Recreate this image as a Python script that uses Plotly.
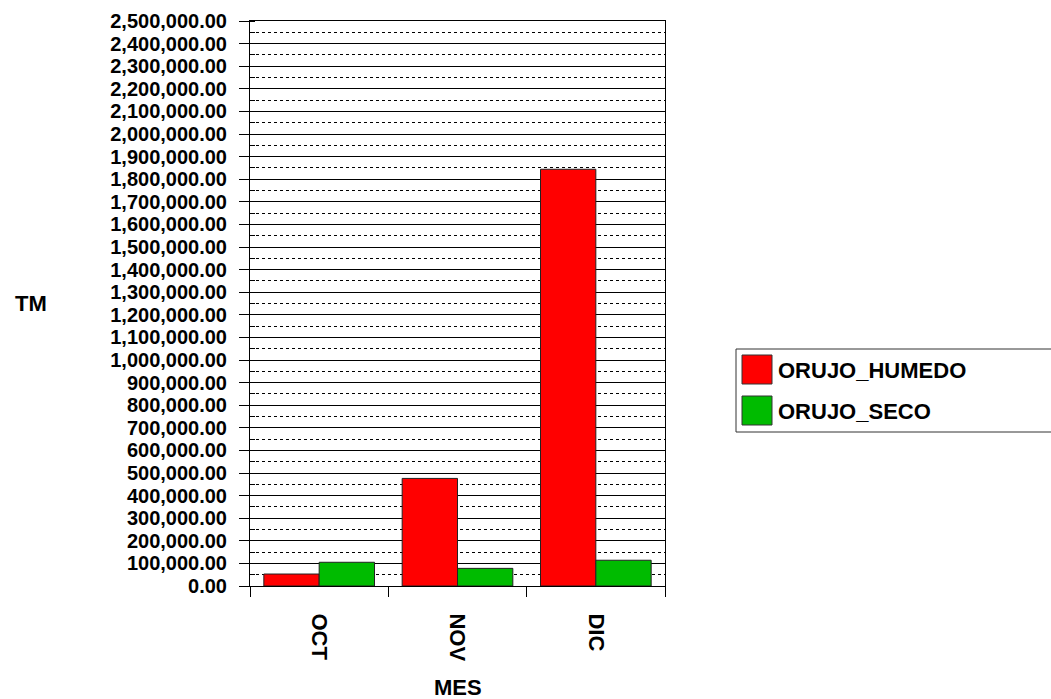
import plotly.graph_objects as go

months = ["OCT", "NOV", "DIC"]
orujo_humedo = [53000, 476000, 1844000]
orujo_seco = [105000, 78000, 114000]
series_names = ["ORUJO_HUMEDO", "ORUJO_SECO"]
series_colors = ["#FF0000", "#00BB00"]
x_title = "MES"
y_title = "TM"

FONT = "Liberation Sans, Arial, sans-serif"
FS = 22
FSY = 20

fig = go.Figure()
for name, vals, col in zip(series_names, [orujo_humedo, orujo_seco], series_colors):
    fig.add_trace(go.Bar(
        x=months, y=vals, name=name,
        marker=dict(color=col, line=dict(color="#222222", width=1)),
        showlegend=False,
    ))

fig.update_layout(
    width=1051, height=699,
    margin=dict(l=250, r=386, t=21, b=113),
    paper_bgcolor="white", plot_bgcolor="white",
    barmode="group", bargap=0.2, bargroupgap=0,
    font=dict(family=FONT, size=FS, color="black", weight="bold"),
)
fig.update_yaxes(
    range=[0, 2500000], dtick=100000, tickformat=",.2f", automargin=False,
    showgrid=True, gridcolor="black", gridwidth=1,
    showline=True, linecolor="black", linewidth=1, mirror=True,
    ticks="outside", ticklen=10, tickcolor="black", ticklabelstandoff=8,
    tickfont=dict(family=FONT, size=FSY, color="black", weight="bold"),
    minor=dict(dtick=50000, showgrid=True, gridcolor="black", gridwidth=1,
               griddash="3px,3px", ticks="inside", ticklen=5, tickcolor="black"),
    zeroline=False,
)
fig.update_xaxes(
    automargin=False,
    showline=True, linecolor="black", linewidth=1, mirror=True,
    ticks="outside", ticklen=10, tickcolor="black", tickson="boundaries",
    tickangle=90, ticklabelstandoff=22,
    tickfont=dict(family=FONT, size=FS, color="black", weight="bold"),
)

# Titles and legend, positioned in page pixels
px0 = 250; pw = 415; pbot = 586; ph = 565
def xp(px):
    return (px - px0) / pw
def yp(py):
    return (pbot - py) / ph

fig.add_annotation(
    text=y_title, xref="paper", yref="paper", x=xp(31), y=yp(303),
    xanchor="center", yanchor="middle", showarrow=False,
    font=dict(family=FONT, size=FS, color="black", weight="bold"),
)
fig.add_annotation(
    text=x_title, xref="paper", yref="paper", x=0.5, y=yp(687),
    xanchor="center", yanchor="middle", showarrow=False,
    font=dict(family=FONT, size=FS, color="black", weight="bold"),
)

fig.add_shape(type="rect", xref="paper", yref="paper",
              x0=xp(736), x1=xp(1070), y0=yp(432), y1=yp(349),
              line=dict(color="#333333", width=1), fillcolor="white")
for i, (name, col) in enumerate(zip(series_names, series_colors)):
    top = 355 + i * 41
    fig.add_shape(type="rect", xref="paper", yref="paper",
                  x0=xp(742), x1=xp(772), y0=yp(top + 29), y1=yp(top),
                  line=dict(color="#333333", width=1), fillcolor=col)
    fig.add_annotation(text=name, xref="paper", yref="paper",
                       x=xp(776), y=yp(top + 15), xanchor="left", yanchor="middle",
                       showarrow=False,
                       font=dict(family=FONT, size=FS, color="black", weight="bold"))

fig.write_html("out.html", config={"displayModeBar": False},
               post_script="document.body.style.margin='0';document.body.style.overflow='hidden';")
